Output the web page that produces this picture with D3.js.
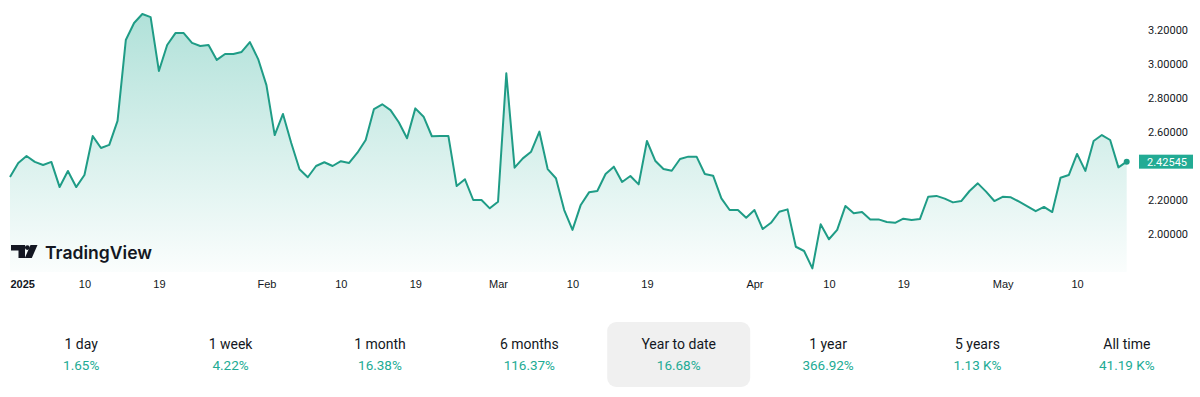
<!DOCTYPE html>
<html>
<head>
<meta charset="utf-8">
<script src="https://cdn.jsdelivr.net/npm/d3@7"></script>
<style>
  html, body { margin: 0; padding: 0; background: #ffffff; }
  svg { display: block; font-family: Roboto, "Noto Sans", sans-serif; }
</style>
</head>
<body>
<svg id="chart" width="1200" height="397"></svg>
<script>
// ---- data ----
const startDate = "2025-01-01";
const prices = [
  2.335, 2.418, 2.459, 2.424, 2.406, 2.424, 2.276, 2.371, 2.276, 2.347,
  2.576, 2.506, 2.524, 2.665, 3.141, 3.241, 3.294, 3.276, 2.959, 3.112,
  3.182, 3.182, 3.124, 3.106, 3.112, 3.024, 3.059, 3.059, 3.071, 3.129,
  3.029, 2.876, 2.582, 2.706, 2.535, 2.381, 2.334, 2.400, 2.422, 2.400,
  2.428, 2.418, 2.478, 2.553, 2.735, 2.763, 2.729, 2.657, 2.563, 2.739,
  2.690, 2.575, 2.576, 2.576, 2.282, 2.322, 2.200, 2.200, 2.151, 2.190,
  2.945, 2.390, 2.445, 2.484, 2.602, 2.382, 2.328, 2.141, 2.024, 2.171,
  2.245, 2.253, 2.353, 2.396, 2.306, 2.341, 2.292, 2.547, 2.431, 2.382,
  2.372, 2.441, 2.455, 2.455, 2.353, 2.343, 2.210, 2.141, 2.141, 2.096,
  2.141, 2.029, 2.066, 2.131, 2.145, 1.925, 1.900, 1.798, 2.057, 1.969,
  2.024, 2.165, 2.122, 2.129, 2.086, 2.086, 2.071, 2.066, 2.090, 2.082,
  2.088, 2.219, 2.224, 2.208, 2.186, 2.194, 2.253, 2.298, 2.249, 2.194,
  2.219, 2.216, 2.190, 2.163, 2.134, 2.159, 2.129, 2.331, 2.347, 2.471,
  2.371, 2.547, 2.582, 2.553, 2.392, 2.42545
];
const lastPriceLabel = "2.42545";
const yTicks = [2.0, 2.2, 2.6, 2.8, 3.0, 3.2];
const xTickDates = ["2025-01-01","2025-01-10","2025-01-19","2025-02-01","2025-02-10","2025-02-19",
  "2025-03-01","2025-03-10","2025-03-19","2025-04-01","2025-04-10","2025-04-19","2025-05-01","2025-05-10"];
const xTickLabels = ["2025","10","19","Feb","10","19","Mar","10","19","Apr","10","19","May","10"];
const periodLabels = ["1 day","1 week","1 month","6 months","Year to date","1 year","5 years","All time"];
const periodValues = ["1.65%","4.22%","16.38%","116.37%","16.68%","366.92%","1.13 K%","41.19 K%"];
const activePeriod = "Year to date";

// ---- setup ----
const svg = d3.select("#chart");
const parse = d3.utcParse("%Y-%m-%d");
const t0 = parse(startDate);
const data = prices.map((v, i) => ({ date: d3.utcDay.offset(t0, i), value: v }));

const x = d3.scaleUtc()
  .domain([t0, data[data.length - 1].date])
  .range([10, 1126.7]);
const y = d3.scaleLinear().domain([2.0, 3.2]).range([234, 30]);
const plotBottom = 272;

const lineColor = "#1f9c86";
const upColor = "#22ab94";

// gradient
const defs = svg.append("defs");
const grad = defs.append("linearGradient")
  .attr("id", "areaGrad").attr("gradientUnits", "userSpaceOnUse")
  .attr("x1", 0).attr("y1", 10).attr("x2", 0).attr("y2", plotBottom);
grad.append("stop").attr("offset", "0%").attr("stop-color", upColor).attr("stop-opacity", 0.36);
grad.append("stop").attr("offset", "100%").attr("stop-color", upColor).attr("stop-opacity", 0.02);

const area = d3.area()
  .x(d => x(d.date))
  .y0(plotBottom)
  .y1(d => y(d.value));
const line = d3.line()
  .x(d => x(d.date))
  .y(d => y(d.value));

svg.append("path").datum(data)
  .attr("d", area)
  .attr("fill", "url(#areaGrad)");

svg.append("path").datum(data)
  .attr("d", line)
  .attr("fill", "none")
  .attr("stroke", lineColor)
  .attr("stroke-width", 2)
  .attr("stroke-linejoin", "round");

const last = data[data.length - 1];
svg.append("circle")
  .attr("cx", x(last.date)).attr("cy", y(last.value))
  .attr("r", 3).attr("fill", lineColor);

// ---- y axis ----
const yAxis = d3.axisRight(y)
  .tickValues(yTicks)
  .tickFormat(d3.format(".5f"))
  .tickSize(0)
  .tickPadding(0);
const yg = svg.append("g").attr("transform", "translate(1148,0)").call(yAxis);
yg.select(".domain").remove();
yg.selectAll("text")
  .attr("fill", "#131722")
  .attr("font-size", 11)
  .attr("font-family", "Roboto, sans-serif");

// last price label
const ly = y(last.value);
svg.append("rect")
  .attr("x", 1139).attr("y", ly - 7).attr("width", 54).attr("height", 14)
  .attr("fill", upColor);
svg.append("text")
  .attr("x", 1147).attr("y", ly)
  .attr("dy", "0.35em")
  .attr("fill", "#ffffff")
  .attr("font-size", 11)
  .text(lastPriceLabel);

// ---- x axis ----
const tickDates = xTickDates.map(parse);
const xAxis = d3.axisBottom(x)
  .tickValues(tickDates)
  .tickFormat((d, i) => xTickLabels[i])
  .tickSize(0)
  .tickPadding(0);
const xg = svg.append("g").attr("transform", "translate(0,280)").call(xAxis);
xg.select(".domain").remove();
xg.selectAll("text")
  .attr("fill", "#131722")
  .attr("font-size", 11)
  .attr("dy", "0.35em")
  .attr("y", 4);
xg.selectAll("text").filter((d, i) => i === 0)
  .attr("text-anchor", "start")
  .attr("font-weight", 700);

// ---- logo ----
const logo = svg.append("g").attr("fill", "#131722");
logo.append("path").attr("d", "M11,245 H25 V258 H18.5 V250.5 H11 Z");
logo.append("circle").attr("cx", 27.3).attr("cy", 247.6).attr("r", 2.4);
logo.append("path").attr("d", "M30.5,245 H37.5 L31.8,258 H24.8 Z");
logo.append("text")
  .attr("x", 45).attr("y", 258.5)
  .attr("font-size", 17.5)
  .attr("font-weight", 600)
  .attr("font-family", "Inter, Roboto, sans-serif")
  .attr("textLength", 107)
  .attr("lengthAdjust", "spacingAndGlyphs")
  .text("TradingView");

// ---- period tabs ----
const tabX = d3.scaleBand()
  .domain(periodLabels)
  .range([6.5, 1201.5])
  .paddingInner(0.04)
  .paddingOuter(0.02);
const tabs = svg.append("g").selectAll("g")
  .data(periodLabels)
  .join("g")
  .attr("transform", d => `translate(${tabX(d) + tabX.bandwidth() / 2},0)`);
tabs.filter(d => d === activePeriod)
  .append("rect")
  .attr("x", -71.5).attr("y", 322).attr("width", 143).attr("height", 65)
  .attr("rx", 9).attr("fill", "#f0f0f0");
tabs.append("text")
  .attr("text-anchor", "middle")
  .attr("y", 349)
  .attr("font-size", 14)
  .attr("fill", "#131722")
  .text(d => d);
tabs.append("text")
  .attr("text-anchor", "middle")
  .attr("y", 370)
  .attr("font-size", 13.5)
  .attr("fill", upColor)
  .text((d, i) => periodValues[i]);
</script>
</body>
</html>
